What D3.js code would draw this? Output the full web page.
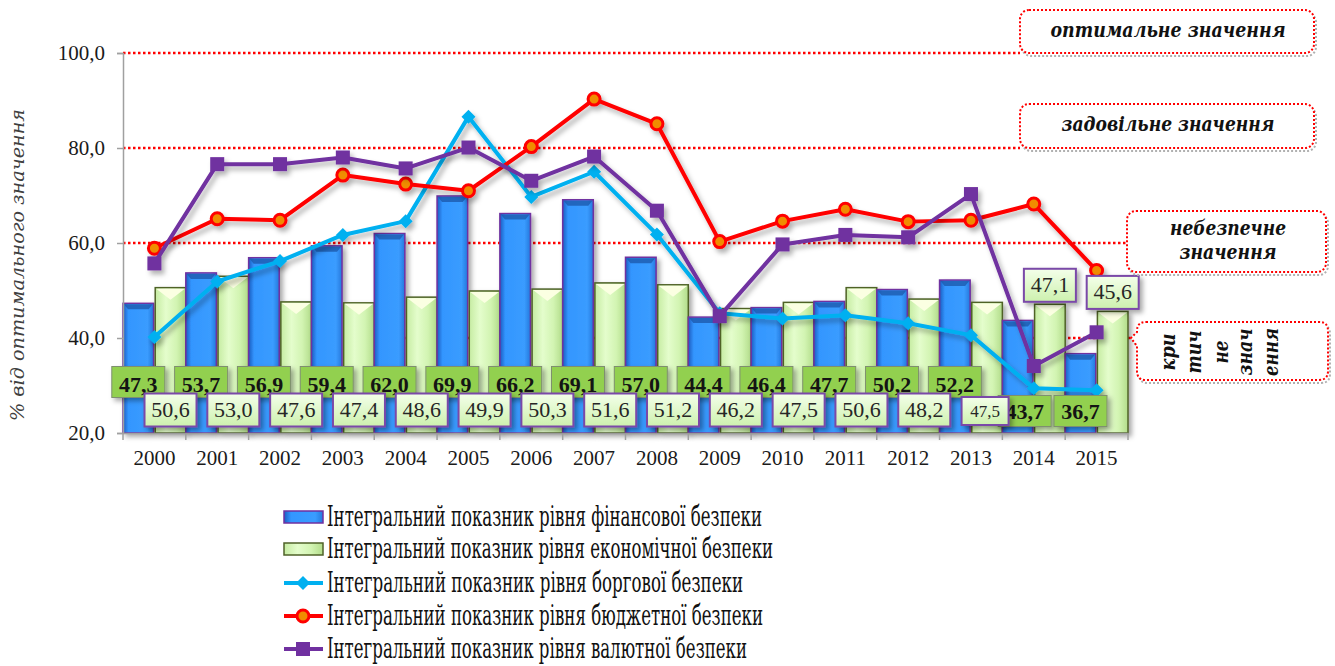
<!DOCTYPE html>
<html><head><meta charset="utf-8">
<script src="https://cdn.jsdelivr.net/npm/d3@7"></script>
<style>body{margin:0;background:#fff}svg{display:block}</style>
</head><body>
<svg id="c" width="1335" height="666"></svg>
<script>
const years = ['2000','2001','2002','2003','2004','2005','2006','2007','2008','2009','2010','2011','2012','2013','2014','2015'];
const finValues = [47.3,53.7,56.9,59.4,62.0,69.9,66.2,69.1,57.0,44.4,46.4,47.7,50.2,52.2,43.7,36.7];
const econValues = [50.6,53.0,47.6,47.4,48.6,49.9,50.3,51.6,51.2,46.2,47.5,50.6,48.2,47.5,47.1,45.6];
const debtValues = [40.2,51.9,56.2,61.7,64.6,86.6,69.7,75.0,61.8,45.2,44.1,44.8,43.1,40.6,29.4,29.0];
const budgetValues = [58.9,65.1,64.8,74.3,72.4,71.0,80.3,90.3,85.1,60.3,64.6,67.1,64.5,64.8,68.2,54.2];
const currencyValues = [55.7,76.6,76.6,78.0,75.7,80.1,73.1,78.2,66.8,44.6,59.7,61.7,61.2,70.3,34.1,41.2];
const yTicks = [20,40,60,80,100];
const levelValues = [100,80,60,40];
const levelNames = ['оптимальне значення','задовільне значення','небезпечне значення','критичне значення'];
const seriesNames = [
 'Інтегральний показник рівня фінансової безпеки',
 'Інтегральний показник рівня економічної безпеки',
 'Інтегральний показник рівня боргової безпеки',
 'Інтегральний показник рівня бюджетної безпеки',
 'Інтегральний показник рівня валютної безпеки'];
const yTitle = '% від оптимального значення';

const svg = d3.select('#c');
const fmt = v => d3.format('.1f')(v).replace('.', ',');
const serif = '"Liberation Serif","Times New Roman",serif';
const cyr = '"DejaVu Serif","Liberation Serif",serif';

const x = d3.scaleBand().domain(years).range([123,1128]).padding(0);
const xs = d3.scaleBand().domain(['fin','econ']).range([0, x.bandwidth()]).paddingInner(0.05);
const y = d3.scaleLinear().domain([20,100]).range([433,53]);

const defs = svg.append('defs');
const bg = defs.append('linearGradient').attr('id','gBlue').attr('x1','0').attr('x2','1').attr('y1','0').attr('y2','0');
[['0%','#1c5cc0'],['18%','#3396ff'],['80%','#3a9cff'],['100%','#2478dc']].forEach(s=>bg.append('stop').attr('offset',s[0]).attr('stop-color',s[1]));
const gg = defs.append('linearGradient').attr('id','gGreen').attr('x1','0').attr('x2','1').attr('y1','0').attr('y2','0');
[['0%','#c6eca2'],['35%','#e4fdcc'],['70%','#d2f4b2'],['100%','#b2dc8a']].forEach(s=>gg.append('stop').attr('offset',s[0]).attr('stop-color',s[1]));
const gl = defs.append('linearGradient').attr('id','gLab').attr('x1','0').attr('x2','0').attr('y1','0').attr('y2','1');
[['0%','#f4ffea'],['100%','#cdf1ae']].forEach(s=>gl.append('stop').attr('offset',s[0]).attr('stop-color',s[1]));
const sh = defs.append('filter').attr('id','shadow').attr('x','-20%').attr('y','-20%').attr('width','150%').attr('height','150%');
sh.append('feDropShadow').attr('dx',3).attr('dy',3).attr('stdDeviation',2.5).attr('flood-color','#000').attr('flood-opacity',0.35);
const shl = defs.append('filter').attr('id','shadowL').attr('x','-10%').attr('y','-10%').attr('width','130%').attr('height','130%');
shl.append('feDropShadow').attr('dx',3).attr('dy',4).attr('stdDeviation',2.5).attr('flood-color','#000').attr('flood-opacity',0.3);

// reference (level) lines
const levelEnds = [1020,1020,1127,1133];
svg.append('g').selectAll('line').data(levelValues).join('line')
  .attr('x1',123).attr('x2',(d,i)=>levelEnds[i]).attr('y1',d=>y(d)).attr('y2',d=>y(d))
  .attr('stroke','#ff0000').attr('stroke-width',2.5).attr('stroke-dasharray','2.5,2.5');

// bars
const gBars = svg.append('g');
years.forEach((yr,i)=>{
  const x0 = x(yr);
  const fx = x0 + xs('fin'), fw = xs.bandwidth(), ft = y(finValues[i]);
  gBars.append('rect').attr('x',fx).attr('y',ft).attr('width',fw).attr('height',y(20)-ft)
    .attr('fill','url(#gBlue)').attr('stroke','#7030a0').attr('stroke-width',1.5).attr('filter','url(#shadow)');
  gBars.append('path').attr('d',`M${fx+1},${ft+1}L${fx+fw-1},${ft+1}L${fx+fw-5},${ft+6}L${fx+5},${ft+6}Z`).attr('fill','#1d5aae').attr('opacity',0.8);
  const ex = x0 + xs('econ'), ew = xs.bandwidth(), et = y(econValues[i]);
  gBars.append('rect').attr('x',ex).attr('y',et).attr('width',ew).attr('height',y(20)-et)
    .attr('fill','url(#gGreen)').attr('stroke','#4f6228').attr('stroke-width',1.5).attr('filter','url(#shadow)');
  gBars.append('path').attr('d',`M${ex+1},${et+1}L${ex+ew-1},${et+1}L${ex+ew/2},${et+12}Z`).attr('fill','#fbffe2');
});

// axes
const yAxis = svg.append('g').attr('transform','translate(123,0)')
  .call(d3.axisLeft(y).tickValues(yTicks).tickSize(6).tickPadding(12).tickFormat(fmt));
yAxis.select('.domain').attr('stroke','#a0a0a0').attr('stroke-width',1.5);
yAxis.selectAll('.tick line').attr('stroke','#a0a0a0').attr('stroke-width',1.5);
yAxis.selectAll('.tick text').attr('font-family',serif).attr('font-size',21).attr('fill','#1a1a1a');

const xAxis = svg.append('g').attr('transform','translate(0,433)')
  .call(d3.axisBottom(x).tickSize(0).tickPadding(17));
xAxis.select('.domain').attr('stroke','#a0a0a0').attr('stroke-width',1.5);
xAxis.selectAll('.tick text').attr('font-family',serif).attr('font-size',21).attr('fill','#1a1a1a');
xAxis.selectAll('line.bnd').data(years.concat(['end'])).join('line').attr('class','bnd')
  .attr('x1',(d,i)=>123+i*x.bandwidth()).attr('x2',(d,i)=>123+i*x.bandwidth())
  .attr('y1',0).attr('y2',7).attr('stroke','#a0a0a0').attr('stroke-width',1.5);

// lines
const cx = i => x(years[i]) + x.bandwidth()/2;
const lineGen = d3.line().x((d,i)=>cx(i)).y(d=>y(d));
function drawLine(vals,color,marker){
  const g = svg.append('g').attr('filter','url(#shadowL)');
  g.append('path').datum(vals).attr('d',lineGen).attr('fill','none').attr('stroke',color).attr('stroke-width',4).attr('stroke-linejoin','round');
  vals.forEach((v,i)=>{
    const px=cx(i), py=y(v);
    if(marker==='diamond') g.append('path').attr('d',`M${px},${py-7}L${px+7},${py}L${px},${py+7}L${px-7},${py}Z`).attr('fill',color);
    if(marker==='circle') g.append('circle').attr('cx',px).attr('cy',py).attr('r',6).attr('fill','#f08c00').attr('stroke',color).attr('stroke-width',3);
    if(marker==='square') g.append('rect').attr('x',px-7).attr('y',py-7).attr('width',14).attr('height',14).attr('fill',color);
  });
}
drawLine(debtValues,'#00b0f0','diamond');
drawLine(budgetValues,'#ff0000','circle');
drawLine(currencyValues,'#7030a0','square');

// data labels
const gLab = svg.append('g');
const finLow = new Set([14,15]);
const econHigh = new Set([14,15]);
years.forEach((yr,i)=>{
  const c = x(yr)+xs('fin')+xs.bandwidth()/2 + (i===14 ? 7 : 0);
  const cy = finLow.has(i) ? 411 : 382;
  gLab.append('rect').attr('x',c-26.5).attr('y',cy-15.5).attr('width',53).attr('height',31)
    .attr('fill','#92d050').attr('stroke','#7f8f6f').attr('stroke-width',1).attr('filter','url(#shadow)');
  gLab.append('text').attr('x',c).attr('y',cy+ (finLow.has(i)?8:10)).attr('text-anchor','middle')
    .attr('font-family',serif).attr('font-weight','bold').attr('font-size',22).attr('fill','#141414').text(fmt(finValues[i]));
});
years.forEach((yr,i)=>{
  const c = x(yr)+xs('econ')+xs.bandwidth()/2 - (i===13 ? 2 : 0);
  const small = i===13;
  const cy = econHigh.has(i) ? y(econValues[i]) - 19 : (small ? 411 : 410);
  const w = small ? 47 : 52, h = small ? 28 : 33;
  gLab.append('rect').attr('x',c-w/2).attr('y',cy-h/2).attr('width',w).attr('height',h)
    .attr('fill','url(#gLab)').attr('stroke','#7a48a8').attr('stroke-width',2).attr('filter','url(#shadow)');
  gLab.append('text').attr('x',c).attr('y',cy+ (small?6:7)).attr('text-anchor','middle')
    .attr('font-family',serif).attr('font-size',small?17:22).attr('fill','#262626').text(fmt(econValues[i]));
});

// annotation boxes
const gAnn = svg.append('g');
function dottedBox(x0,y0,x1,y1){
  gAnn.append('rect').attr('x',x0+2).attr('y',y0+3).attr('width',x1-x0).attr('height',y1-y0).attr('rx',9)
    .attr('fill','none').attr('stroke','#b0b0b0').attr('stroke-width',2).attr('stroke-dasharray','2,2');
  gAnn.append('rect').attr('x',x0).attr('y',y0).attr('width',x1-x0).attr('height',y1-y0).attr('rx',9)
    .attr('fill','#fff').attr('stroke','#ff0000').attr('stroke-width',2).attr('stroke-dasharray','2,2');
}
function annText(t,xc,yb,len){
  gAnn.append('text').attr('x',xc).attr('y',yb).attr('text-anchor','middle').attr('font-family',cyr)
    .attr('font-weight','bold').attr('font-style','italic').attr('font-size',21).attr('fill','#111')
    .attr('textLength',len).attr('lengthAdjust','spacingAndGlyphs').text(t);
}
dottedBox(1020,10,1314,53); annText(levelNames[0],1168,37,235);
dottedBox(1020,104,1314,148); annText(levelNames[1],1168,131,213);
dottedBox(1127,211,1326,272); annText('небезпечне',1228,235,116); annText('значення',1228,259,97);
{
  const x0=1137,y0=322,x1=1328,y1=380,r=9;
  const p = `M${x0+r},${y0}H${x1-r}Q${x1},${y0} ${x1},${y0+r}V${y1-r}Q${x1},${y1} ${x1-r},${y1}H${x0+r}Q${x0},${y1} ${x0},${y1-r}V346L1131,338L${x0},332V${y0+r}Q${x0},${y0} ${x0+r},${y0}Z`;
  gAnn.append('path').attr('d',p).attr('transform','translate(2,3)').attr('fill','none').attr('stroke','#b0b0b0').attr('stroke-width',2).attr('stroke-dasharray','2,2');
  gAnn.append('path').attr('d',p).attr('fill','#fff').attr('stroke','#ff0000').attr('stroke-width',2).attr('stroke-dasharray','2,2');
  const parts = ['кри','тич','не','знач','ення'];
  const px = [1167,1193,1220,1244,1270];
  const lens = [37,43,23,47,48];
  parts.forEach((t,k)=>{
    gAnn.append('text').attr('transform',`translate(${px[k]+8},352) rotate(-90)`).attr('text-anchor','middle')
      .attr('font-family',cyr).attr('font-weight','bold').attr('font-style','italic').attr('font-size',21).attr('fill','#111')
      .attr('textLength',lens[k]).attr('lengthAdjust','spacingAndGlyphs').text(t);
  });
}

// y title
svg.append('text').attr('transform','translate(24,265) rotate(-90)').attr('text-anchor','middle')
  .attr('font-family',cyr).attr('font-style','italic').attr('font-size',19).attr('fill','#404040')
  .attr('textLength',312).attr('lengthAdjust','spacingAndGlyphs').text(yTitle);

// legend
const gLeg = svg.append('g');
const legY = [517,549,583,616,649];
const legLen = [435,446,416,436,420];
seriesNames.forEach((n,i)=>{
  const cyy = legY[i];
  if(i===0) gLeg.append('rect').attr('x',284).attr('y',cyy-6).attr('width',39).attr('height',12).attr('fill','url(#gBlue)').attr('stroke','#7030a0').attr('stroke-width',1.5);
  if(i===1) gLeg.append('rect').attr('x',284).attr('y',cyy-6).attr('width',39).attr('height',12).attr('fill','url(#gGreen)').attr('stroke','#4f6228').attr('stroke-width',1.5);
  if(i>=2){
    const col = ['#00b0f0','#ff0000','#7030a0'][i-2];
    gLeg.append('line').attr('x1',284).attr('x2',323).attr('y1',cyy).attr('y2',cyy).attr('stroke',col).attr('stroke-width',4);
    if(i===2) gLeg.append('path').attr('d',`M303,${cyy-7}L310,${cyy}L303,${cyy+7}L296,${cyy}Z`).attr('fill',col);
    if(i===3) gLeg.append('circle').attr('cx',303).attr('cy',cyy).attr('r',6).attr('fill','#f08c00').attr('stroke',col).attr('stroke-width',3);
    if(i===4) gLeg.append('rect').attr('x',296).attr('y',cyy-7).attr('width',14).attr('height',14).attr('fill',col);
  }
  gLeg.append('text').attr('x',327).attr('y',cyy+9).attr('font-family',cyr).attr('font-size',27).attr('fill','#111')
    .attr('textLength',legLen[i]).attr('lengthAdjust','spacingAndGlyphs').text(n);
});
</script>
</body></html>
